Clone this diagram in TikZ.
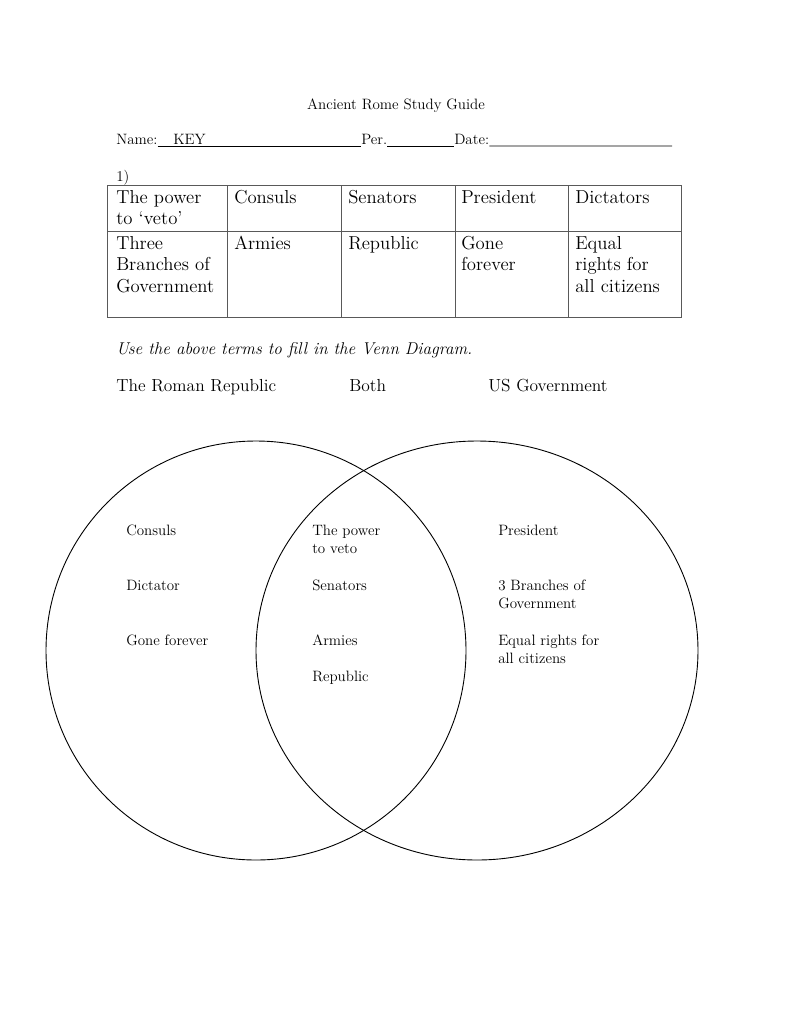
\documentclass[tikz,border=0pt]{standalone}
\usepackage{tikz}
\usetikzlibrary{positioning}

\begin{document}
\begin{tikzpicture}[x=0.7737pt,y=-0.7737pt,
  small/.style={anchor=base west,inner sep=0pt,align=left,font=\fontsize{11.6}{14.3}\selectfont},
  cell/.style={anchor=base west,inner sep=0pt,align=left,font=\fontsize{14.5}{16.6}\selectfont},
  big/.style={anchor=base west,inner sep=0pt,font=\fontsize{13.5}{16}\selectfont},
  tabline/.style={draw=black!65,line width=0.6pt},
  blank/.style={line width=0.5pt},
  venn/.style={draw=black,line width=0.7pt}]
\useasboundingbox (0,0) rectangle (791,1024);

% header
\node[small,anchor=base] (title) at (396,109.5) {Ancient Rome Study Guide};
\node[small] (name) at (116,144) {Name:};
\node[small] (key) at (173,144) {KEY};
\node[small] (per) at (361,144) {Per.};
\node[small] (date) at (454,144) {Date:};
\draw[blank] ([yshift=-1.5pt]name.base east) -- ([yshift=-1.5pt]per.base west);
\draw[blank] ([yshift=-1.5pt]per.base east) -- ([yshift=-1.5pt]date.base west);
\draw[blank] ([yshift=-1.5pt]date.base east) -- (672,146);
\node[small] (num) at (116,181) {1)};

% table (base of a multi-line node is its last line)
\draw[tabline] (107.5,185) rectangle (681.5,317);
\draw[tabline] (107.5,231) -- (681.5,231);
\foreach \x in {227,341,455,568}
  \draw[tabline] (\x,185) -- (\x,317);
\node[cell] (veto) at (116,224.5) {The power\\to `veto'};
\node[cell] (consuls) at (234,203) {Consuls};
\node[cell] (senators) at (348,203) {Senators};
\node[cell] (president) at (461,203) {President};
\node[cell] (dictators) at (575,203) {Dictators};
\node[cell] (branches) at (116,292) {Three\\Branches of\\Government};
\node[cell] (armies) at (234,249) {Armies};
\node[cell] (republic) at (348,249) {Republic};
\node[cell] (gone) at (461,270.5) {Gone\\forever};
\node[cell] (equal) at (575,292) {Equal\\rights for\\all citizens};

% instructions and headings
\node[big,font=\fontsize{13.2}{16}\selectfont\itshape] (use) at (116,354) {Use the above terms to fill in the Venn Diagram.};
\node[big] (roman) at (116,391) {The Roman Republic};
\node[big] (both) at (349,391) {Both};
\node[big] (usgov) at (488,391) {US Government};

% venn diagram
\draw[venn] (256,650.5) ellipse [x radius=210, y radius=209.5];
\draw[venn] (477,650.5) ellipse [x radius=221, y radius=209.5];

\node[small] (lconsuls) at (126,535) {Consuls};
\node[small] (ldict) at (126,590) {Dictator};
\node[small] (lgone) at (126,645) {Gone forever};
\node[small] (mveto) at (312,553.5) {The power\\to veto};
\node[small] (msen) at (312,590) {Senators};
\node[small] (marm) at (312,645) {Armies};
\node[small] (mrep) at (312,681.5) {Republic};
\node[small] (rpres) at (498,535) {President};
\node[small] (rbranch) at (498,608.5) {3 Branches of\\Government};
\node[small] (requal) at (498,663.5) {Equal rights for\\all citizens};

\end{tikzpicture}
\end{document}
